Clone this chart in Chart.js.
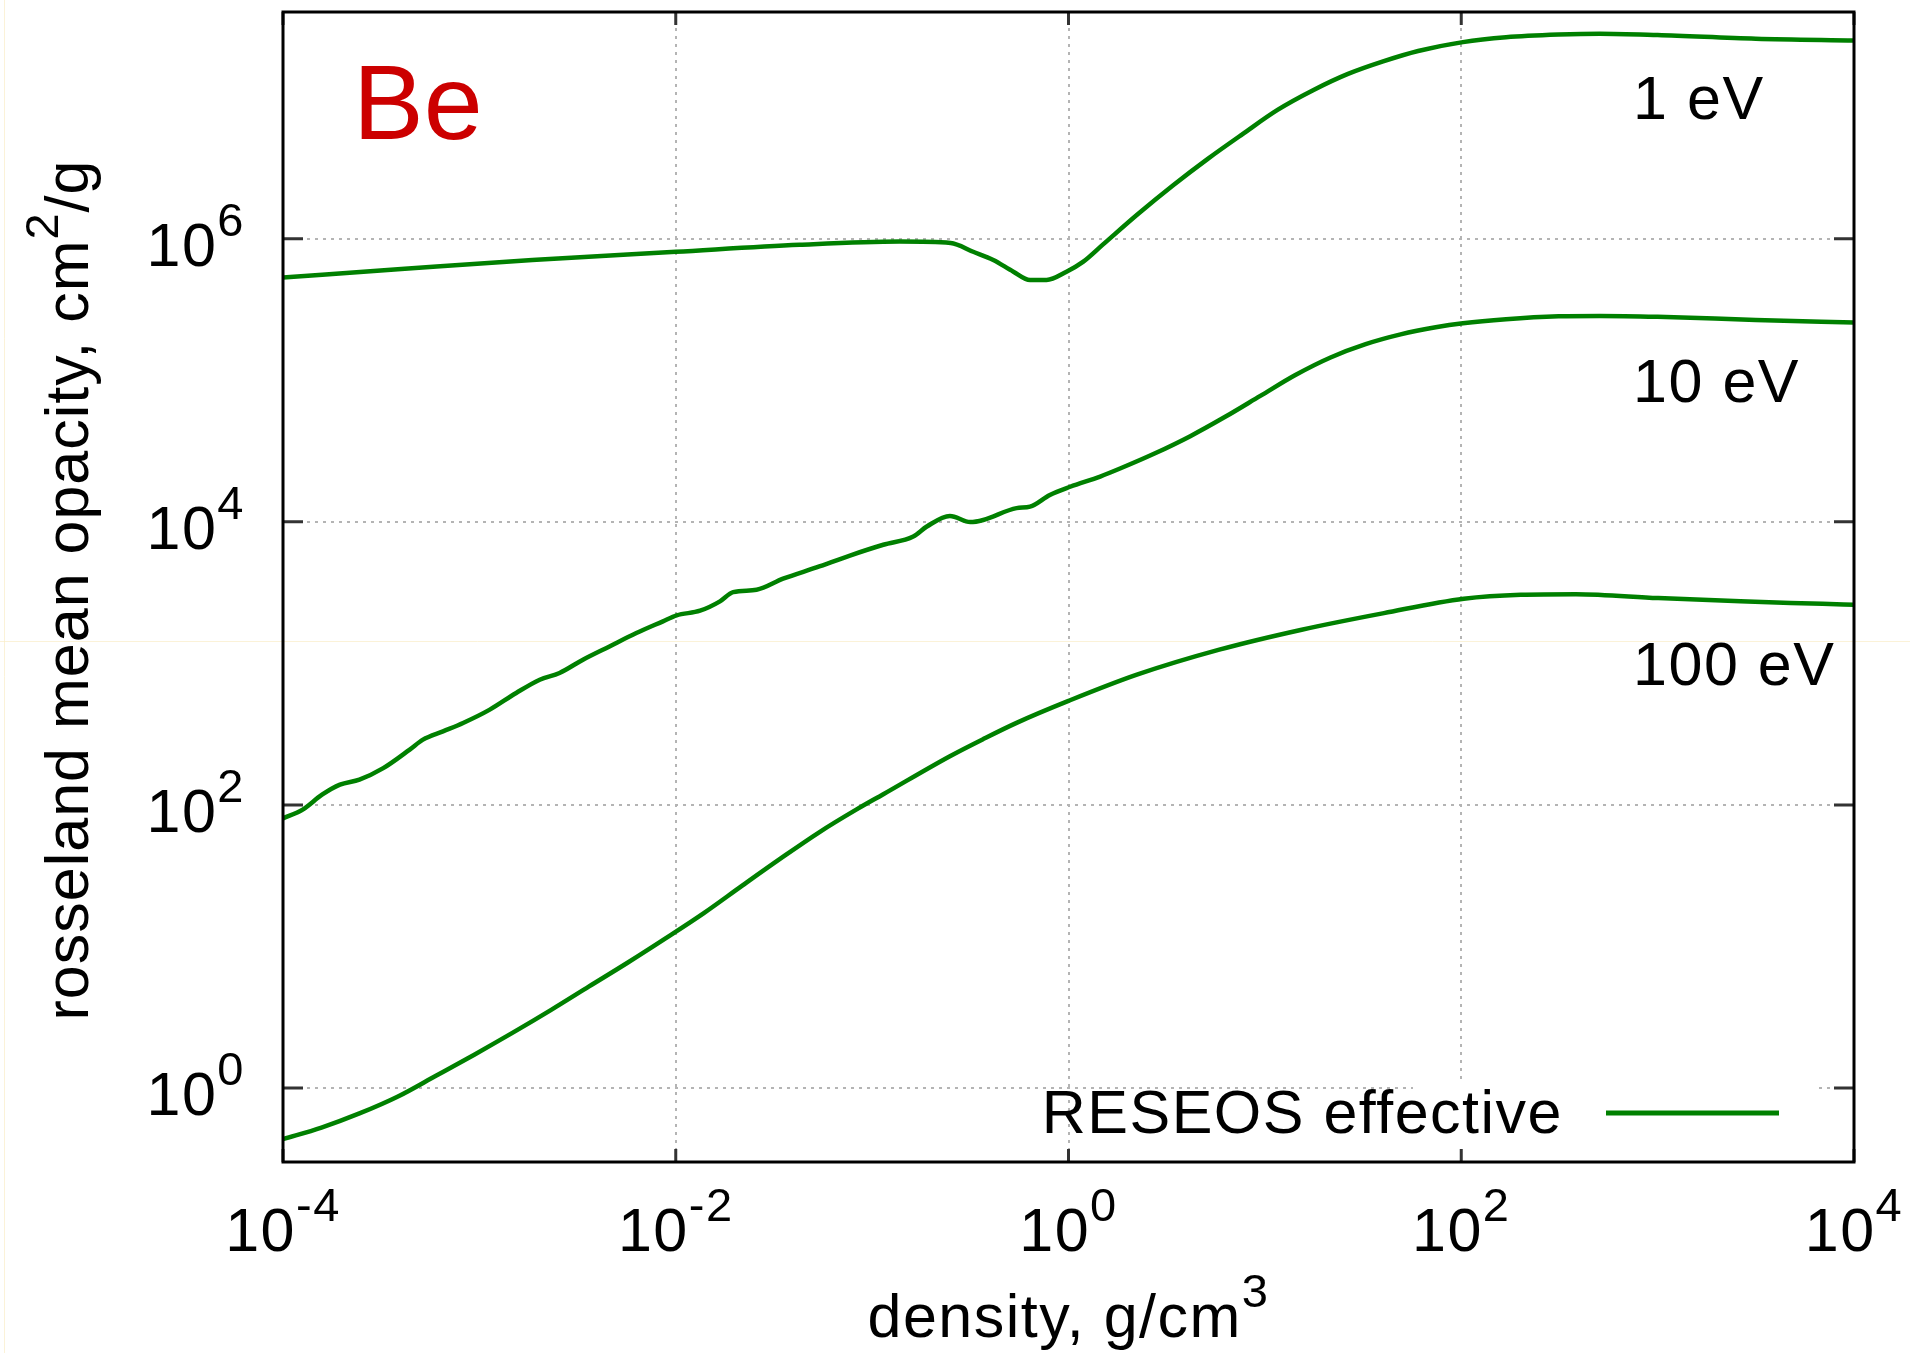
<!DOCTYPE html>
<html>
<head>
<meta charset="utf-8">
<title>Be - rosseland mean opacity</title>
<script src="https://cdn.jsdelivr.net/npm/chart.js@4.4.0/dist/chart.umd.min.js"></script>
<style>
  html, body { margin: 0; padding: 0; background: #fff; }
  #wrap { width: 1910px; height: 1353px; }
</style>
</head>
<body>
<div id="wrap"><canvas id="opacityChart" width="1910" height="1353"></canvas></div>
<script>
// Densita' (g/cm3) e opacita' (cm2/g) per ogni temperatura
const rho1eV = [1e-4, 4e-4, 1.86e-3, 1e-2, 4.27e-2, 0.138, 0.251, 0.327, 0.414, 0.524, 0.637, 0.773, 0.977, 1.19, 1.50,
  2.25, 3.40, 5.12, 7.73, 11.6, 17.6, 26.5, 40.0, 60.3, 102, 169, 313, 508, 1000, 3160, 1e4];
const kappa1eV = [5.33e5, 6.11e5, 7.08e5, 8.09e5, 9.06e5, 9.55e5, 9.33e5, 8.09e5, 7.08e5, 5.85e5, 5.11e5, 5.11e5, 5.85e5, 6.89e5, 9.12e5,
  1.49e6, 2.38e6, 3.67e6, 5.51e6, 8.13e6, 1.12e7, 1.46e7, 1.79e7, 2.12e7, 2.45e7, 2.65e7, 2.77e7, 2.81e7, 2.75e7, 2.59e7, 2.52e7];

const rho10eV = [1e-4, 1.26e-4, 1.58e-4, 1.95e-4, 2.45e-4, 3.24e-4, 4.42e-4, 5.16e-4, 6.53e-4, 8.26e-4,
  1.13e-3, 1.54e-3, 2.03e-3, 2.56e-3, 3.37e-3, 4.60e-3, 6.30e-3, 8.61e-3, 1.01e-2, 1.33e-2,
  1.68e-2, 1.96e-2, 2.58e-2, 3.52e-2, 5.21e-2, 7.71e-2, 0.114, 0.162, 0.190, 0.249,
  0.316, 0.368, 0.544, 0.637, 0.804, 1.02, 1.45, 1.83, 2.76, 4.17,
  6.28, 9.48, 14.3, 21.6, 32.6, 49.1, 74.1, 102, 169, 313, 508, 1000, 3160, 1e4];
const kappa10eV = [80.4, 92.7, 118, 139, 151, 182, 246, 289, 331, 379,
  471, 618, 767, 855, 1062, 1318, 1637, 1982, 2183, 2355,
  2742, 3184, 3311, 3963, 4764, 5781, 6887, 7889, 9268, 1.10e4,
  9954, 1.03e4, 1.25e4, 1.28e4, 1.55e4, 1.77e4, 2.09e4, 2.38e4, 3.05e4, 4.03e4,
  5.52e4, 7.76e4, 1.09e5, 1.45e5, 1.80e5, 2.11e5, 2.37e5, 2.53e5, 2.70e5, 2.83e5, 2.85e5, 2.81e5, 2.67e5, 2.56e5];

const rho100eV = [1e-4, 1.57e-4, 2.45e-4, 3.85e-4, 6.01e-4, 9.42e-4, 1.48e-3, 2.31e-3, 3.62e-3, 5.68e-3,
  8.87e-3, 1.39e-2, 2.18e-2, 3.41e-2, 5.35e-2, 8.38e-2, 0.114, 0.249, 0.368, 0.544, 1.0,
  2.23, 5.86, 15.4, 40.4, 103, 201, 384, 1007, 2642, 6918, 1e4];
const kappa100eV = [0.435, 0.525, 0.661, 0.871, 1.22, 1.72, 2.46, 3.55, 5.22, 7.67,
  11.4, 17.2, 26.9, 41.7, 63.8, 93.3, 119, 221, 292, 380, 543,
  832, 1250, 1730, 2265, 2864, 3055, 3083, 2891, 2742, 2636, 2594];

// Tick (potenze di 10) ed etichette
const xTicks = [1e-4, 1e-2, 1, 1e2, 1e4];
const xTickExp = ['-4', '-2', '0', '2', '4'];
const yTicks = [1, 1e2, 1e4, 1e6];
const yTickExp = ['0', '2', '4', '6'];
const tempLabels = ['1 eV', '10 eV', '100 eV'];
const seriesLabel = 'RESEOS effective';
const elementLabel = 'Be';

// Dove stanno le etichette delle temperature (coordinate dati)
const tempLabelX = 750;
const tempLabelY = [7e6, 7e4, 700];

const FONT = '"Liberation Sans", Arial, Helvetica, sans-serif';
const TEXT_SIZE = 61;
const SUP_SIZE = 47;
const SUP_RISE = 30;
const SPACING = '1.5px';
const GREEN = '#008000';

// Scrive testo con esponenti: parts = [[testo, apice?], ...]
function drawPowerText(ctx, parts, x, y, align, spacing) {
  ctx.letterSpacing = spacing || SPACING;
  const widths = parts.map(([t, sup]) => {
    ctx.font = (sup ? SUP_SIZE : TEXT_SIZE) + 'px ' + FONT;
    return ctx.measureText(t).width;
  });
  const total = widths.reduce((a, b) => a + b, 0);
  let cx = align === 'center' ? x - total / 2 : align === 'right' ? x - total : x;
  ctx.textAlign = 'left';
  ctx.textBaseline = 'alphabetic';
  parts.forEach(([t, sup], i) => {
    ctx.font = (sup ? SUP_SIZE : TEXT_SIZE) + 'px ' + FONT;
    ctx.fillText(t, cx, sup ? y - SUP_RISE : y);
    cx += widths[i];
  });
}

// Cornice, tick, etichette e legenda in stile gnuplot
const gnuplotFrame = {
  id: 'gnuplotFrame',
  beforeDraw(chart) {
    const { ctx, width, height } = chart;
    ctx.save();
    ctx.fillStyle = '#fff';
    ctx.fillRect(0, 0, width, height);
    // sottili linee color crema che attraversano la tela
    ctx.strokeStyle = 'rgba(250,236,200,0.7)';
    ctx.lineWidth = 1;
    ctx.beginPath();
    ctx.moveTo(0, 641.5); ctx.lineTo(width, 641.5);
    ctx.moveTo(4.5, 0); ctx.lineTo(4.5, height);
    ctx.stroke();
    ctx.restore();
  },
  beforeDatasetsDraw(chart) {
    // la legenda copre la griglia dietro di se'
    const a = chart.chartArea;
    const ctx = chart.ctx;
    ctx.save();
    ctx.fillStyle = '#fff';
    ctx.fillRect(a.right - 441, a.bottom - 80, 402, 68);
    ctx.restore();
  },
  afterDraw(chart) {
    const { ctx, chartArea: a } = chart;
    const xs = chart.scales.x, ys = chart.scales.y;
    ctx.save();

    // tick verso l'interno su tutti e quattro i lati
    ctx.strokeStyle = '#333';
    ctx.lineWidth = 3;
    ctx.beginPath();
    xTicks.forEach(v => {
      const px = xs.getPixelForValue(v);
      ctx.moveTo(px, a.bottom); ctx.lineTo(px, a.bottom - 13);
      ctx.moveTo(px, a.top); ctx.lineTo(px, a.top + 13);
    });
    yTicks.forEach(v => {
      const py = ys.getPixelForValue(v);
      ctx.moveTo(a.left, py); ctx.lineTo(a.left + 20, py);
      ctx.moveTo(a.right, py); ctx.lineTo(a.right - 20, py);
    });
    ctx.stroke();

    // bordo
    ctx.strokeStyle = '#000';
    ctx.lineWidth = 3;
    ctx.strokeRect(a.left, a.top, a.right - a.left, a.bottom - a.top);

    ctx.fillStyle = '#000';
    // etichette dei tick
    xTicks.forEach((v, i) => {
      drawPowerText(ctx, [['10', false], [xTickExp[i], true]], xs.getPixelForValue(v), a.bottom + 89, 'center');
    });
    yTicks.forEach((v, i) => {
      drawPowerText(ctx, [['10', false], [yTickExp[i], true]], a.left - 38, ys.getPixelForValue(v) + 27, 'right');
    });

    // titoli degli assi
    drawPowerText(ctx, [['density, g/cm', false], ['3', true]], (a.left + a.right) / 2, a.bottom + 175, 'center');
    ctx.save();
    ctx.translate(a.left - 195, (a.top + a.bottom) / 2 + 3);
    ctx.rotate(-Math.PI / 2);
    drawPowerText(ctx, [['rosseland mean opacity, cm', false], ['2', true], ['/g', false]], 0, 0, 'center', '1px');
    ctx.restore();

    // elemento
    ctx.letterSpacing = '0px';
    ctx.fillStyle = '#cc0000';
    ctx.font = '106px ' + FONT;
    ctx.textAlign = 'left';
    ctx.textBaseline = 'alphabetic';
    ctx.fillText(elementLabel, a.left + 70, a.top + 127);

    // temperature
    ctx.letterSpacing = SPACING;
    ctx.fillStyle = '#000';
    ctx.font = TEXT_SIZE + 'px ' + FONT;
    tempLabels.forEach((t, i) => {
      ctx.fillText(t, xs.getPixelForValue(tempLabelX), ys.getPixelForValue(tempLabelY[i]));
    });

    // legenda
    ctx.textAlign = 'right';
    ctx.fillText(seriesLabel, a.right - 291, a.bottom - 29);
    ctx.strokeStyle = GREEN;
    ctx.lineWidth = 5;
    ctx.beginPath();
    ctx.moveTo(a.right - 248, a.bottom - 49);
    ctx.lineTo(a.right - 75, a.bottom - 49);
    ctx.stroke();

    ctx.restore();
  }
};

function toPoints(xArr, yArr) {
  return xArr.map((x, i) => ({ x: x, y: yArr[i] }));
}

function curve(xArr, yArr) {
  return {
    label: seriesLabel,
    data: toPoints(xArr, yArr),
    borderColor: GREEN,
    backgroundColor: GREEN,
    borderWidth: 4.5,
    pointRadius: 0,
    fill: false,
    cubicInterpolationMode: 'monotone'
  };
}

const ctx = document.getElementById('opacityChart').getContext('2d');
const opacityChart = new Chart(ctx, {
  type: 'line',
  data: {
    datasets: [
      curve(rho1eV, kappa1eV),
      curve(rho10eV, kappa10eV),
      curve(rho100eV, kappa100eV)
    ]
  },
  options: {
    responsive: false,
    animation: false,
    devicePixelRatio: 1,
    layout: { padding: { left: 283, right: 56, top: 12, bottom: 191 } },
    plugins: {
      legend: { display: false },
      tooltip: { enabled: false }
    },
    scales: {
      x: {
        type: 'logarithmic',
        min: 1e-4,
        max: 1e4,
        afterBuildTicks: scale => { scale.ticks = xTicks.map(v => ({ value: v })); },
        afterFit: scale => { scale.height = 0; },
        ticks: { display: false },
        grid: { color: '#b4b4b4', lineWidth: 2, drawTicks: false },
        border: { display: false, dash: [3, 5] }
      },
      y: {
        type: 'logarithmic',
        min: 0.3,
        max: 4e7,
        afterBuildTicks: scale => { scale.ticks = yTicks.map(v => ({ value: v })); },
        afterFit: scale => { scale.width = 0; },
        ticks: { display: false },
        grid: { color: '#b4b4b4', lineWidth: 2, drawTicks: false },
        border: { display: false, dash: [3, 5] }
      }
    }
  },
  plugins: [gnuplotFrame]
});
</script>
</body>
</html>
